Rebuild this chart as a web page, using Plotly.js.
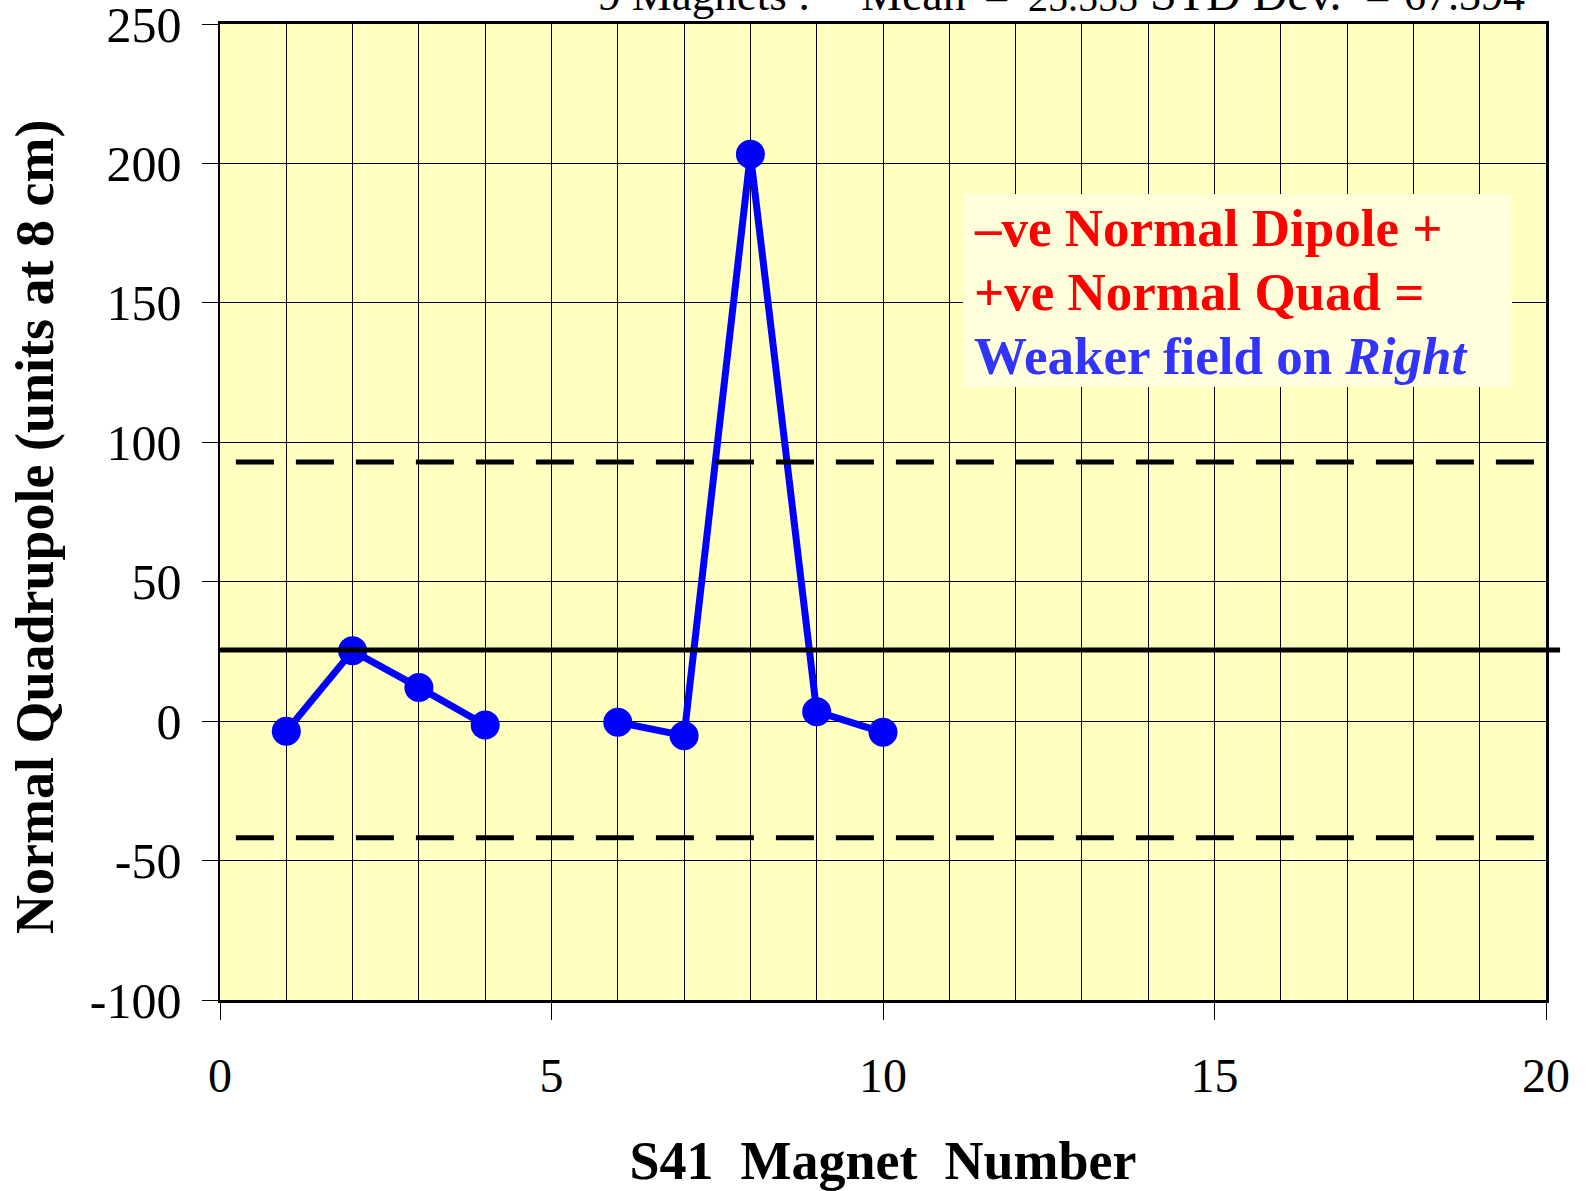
<!DOCTYPE html>
<html>
<head>
<meta charset="utf-8">
<script src="https://cdn.plot.ly/plotly-3.0.1.min.js"></script>
<style>html,body{margin:0;padding:0;background:#fff;}#chart{width:1589px;height:1191px;}</style>
</head>
<body>
<div id="chart"></div>
<script>
// ---- data ----
const magnetNumber = [1, 2, 3, 4, 5, 6, 7, 8, 9, 10];
const normalQuad   = [-3.6, 25.2, 12.1, -1.4, null, -0.4, -5.2, 203.3, 3.4, -4.0];
const nMagnets = 9;
const meanVal = 25.555;
const stdDev = 67.394;
const yTickVals = [-100, -50, 0, 50, 100, 150, 200, 250];
const yTickText = ["-100", "-50", "0", "50", "100", "150", "200", "250"];
const xTickVals = [0, 5, 10, 15, 20];
const noteLines = ["–ve Normal Dipole +", "+ve Normal Quad =", "Weaker field on <i>Right</i>"];
const noteColors = ["#FF0000", "#FF0000", "#3333FF"];

const serif = "Liberation Serif, Times New Roman, serif";
const nb = n => "\u00A0".repeat(n);

// plot-area pixel geometry helpers (for placing texts)
const PL = 220, PR = 1546, PT = 24, PB = 1000;
const px2x = p => (p - PL) / (PR - PL);
const px2y = p => 1 - (p - PT) / (PB - PT);

const trace = {
  x: magnetNumber, y: normalQuad, type: "scatter", mode: "lines+markers",
  connectgaps: false,
  line: {color: "#0000FF", width: 7},
  marker: {color: "#0000FF", size: 29},
  showlegend: false, hoverinfo: "x+y"
};

const noteBaselines = [245, 309, 373];
const noteAnnotations = noteLines.map((t, i) => ({
  xref: "paper", yref: "paper", x: px2x(973), y: px2y(noteBaselines[i] + 13), xanchor: "left", yanchor: "bottom",
  text: "<b>" + t + "</b>", showarrow: false, borderpad: 0,
  font: {family: serif, size: 53, color: noteColors[i]}
}));

// header line (cut off at the top edge, as in the original)
const headerParts = [
  {t: nMagnets + " Magnets :", px: 597, s: 45},
  {t: "Mean", px: 860, s: 46},
  {t: "=", px: 983, s: 45},
  {t: meanVal.toFixed(3), px: 1027, s: 40},
  {t: "STD Dev.", px: 1149, s: 48},
  {t: "=", px: 1364, s: 45},
  {t: stdDev.toFixed(3), px: 1403, s: 44}
];
const headerAnnotations = headerParts.map(p => ({
  xref: "paper", yref: "paper", x: px2x(p.px), y: px2y(21), xanchor: "left", yanchor: "bottom",
  text: p.t, showarrow: false, borderpad: 0, font: {family: serif, size: p.s, color: "#000"}
}));

const yTitle = {
  xref: "paper", yref: "paper", x: px2x(35), y: px2y(527), xanchor: "center", yanchor: "middle",
  textangle: -90, showarrow: false,
  text: "<b>Normal Quadrupole (units at 8 cm)</b>", font: {family: serif, size: 54, color: "#000"}
};

const layout = {
  width: 1589, height: 1191,
  margin: {l: PL, r: 1589 - PR, t: PT, b: 1191 - PB},
  paper_bgcolor: "#FFFFFF",
  plot_bgcolor: "#FFFFC0",
  font: {family: serif, color: "#000"},
  showlegend: false,
  xaxis: {
    range: [0, 20], tickvals: xTickVals, ticks: "outside", ticklen: 17, tickwidth: 1, tickcolor: "#000",
    showgrid: true, gridcolor: "#000", gridwidth: 1, zeroline: false,
    minor: {dtick: 1, showgrid: true, gridcolor: "#000", gridwidth: 1, ticks: ""},
    showline: true, mirror: true, linecolor: "#000", linewidth: 3,
    tickfont: {family: serif, size: 48, color: "#000"},
    ticklabelstandoff: 14,
    title: {text: "<b>S41" + nb(2) + "Magnet" + nb(2) + "Number</b>", font: {family: serif, size: 54, color: "#000"}, standoff: 42},
    automargin: false
  },
  yaxis: {
    range: [-100, 250], tickvals: yTickVals, ticktext: yTickText, ticks: "outside", ticklen: 16, tickwidth: 1, tickcolor: "#000",
    showgrid: true, gridcolor: "#000", gridwidth: 1, zeroline: false,
    showline: true, mirror: true, linecolor: "#000", linewidth: 2.5,
    tickfont: {family: serif, size: 50, color: "#000"},
    ticklabelstandoff: 10, ticklabeloverflow: "allow",
    automargin: false
  },
  shapes: [
    {type: "rect", xref: "paper", yref: "paper", x0: px2x(963), x1: px2x(1512), y0: px2y(387), y1: px2y(194),
     fillcolor: "#FFFFDC", line: {width: 0}, layer: "above"},
    {type: "line", xref: "paper", yref: "y", x0: -0.001, x1: 1.0106, y0: meanVal, y1: meanVal,
     line: {color: "#000", width: 5}},
    {type: "line", xref: "paper", yref: "y", x0: 0.012, x1: 1.003, y0: meanVal + stdDev, y1: meanVal + stdDev,
     line: {color: "#000", width: 5, dash: "38px,22px"}},
    {type: "line", xref: "paper", yref: "y", x0: 0.012, x1: 1.003, y0: meanVal - stdDev, y1: meanVal - stdDev,
     line: {color: "#000", width: 5, dash: "38px,22px"}}
  ],
  annotations: headerAnnotations.concat([yTitle]).concat(noteAnnotations)
};

Plotly.newPlot("chart", [trace], layout, {displayModeBar: false, staticPlot: true});
</script>
</body>
</html>
